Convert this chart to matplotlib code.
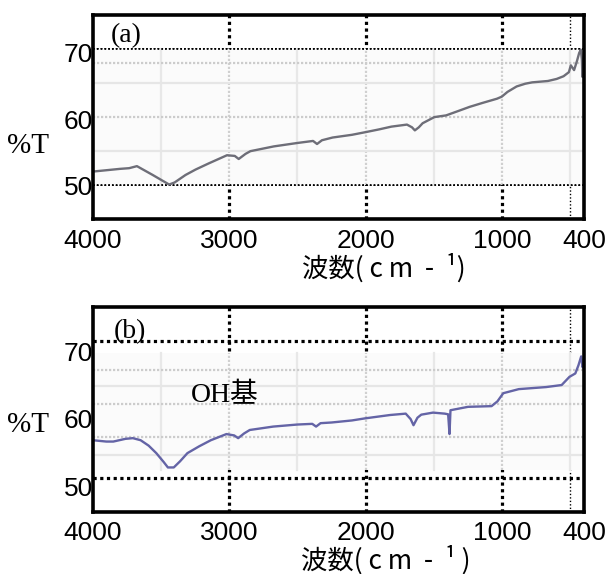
"""FT-IR transmittance spectra (a) and (b), redrawn from a scanned composite figure."""
import matplotlib
matplotlib.use('Agg')
import matplotlib.pyplot as plt
from matplotlib.patches import Rectangle

# ---- data ----------------------------------------------------------------
wn_a = [4000, 3900, 3800, 3733, 3676, 3560, 3440, 3400, 3320, 3246, 3150, 3016,
        2959, 2930, 2880, 2844, 2672, 2500, 2385, 2356, 2320, 2242, 2100, 1998,
        1900, 1811, 1697, 1660, 1639, 1610, 1582, 1496, 1410, 1320, 1238, 1140,
        1037, 1002, 960, 893, 830, 779, 664, 600, 549, 510, 496, 472, 450, 435,
        423, 415, 411, 405, 400]
t_a = [52.0, 52.2, 52.4, 52.5, 52.8, 51.5, 50.1, 50.4, 51.5, 52.3, 53.2, 54.4,
       54.3, 53.85, 54.6, 55.0, 55.7, 56.2, 56.5, 56.05, 56.6, 57.0, 57.4, 57.8,
       58.2, 58.6, 58.9, 58.5, 58.05, 58.5, 59.1, 60.0, 60.25, 60.9, 61.5, 62.1,
       62.7, 63.0, 63.7, 64.5, 64.9, 65.1, 65.3, 65.6, 66.0, 66.6, 67.6, 66.9,
       68.3, 69.4, 69.9, 68.5, 65.9, 67.5, 67.0]

wn_b = [4000, 3900, 3849, 3760, 3706, 3649, 3590, 3534, 3480, 3449, 3406, 3360,
        3306, 3220, 3134, 3020, 2963, 2934, 2890, 2849, 2677, 2500, 2391, 2363,
        2330, 2249, 2100, 2006, 1820, 1706, 1670, 1649, 1620, 1592, 1506, 1420,
        1395, 1385, 1378, 1249, 1077, 1034, 991, 877, 677, 563, 506, 463, 440,
        420, 410, 400]
t_b = [55.5, 55.3, 55.3, 55.7, 55.8, 55.5, 54.7, 53.6, 52.3, 51.5, 51.5, 52.4,
       53.6, 54.6, 55.5, 56.4, 56.2, 55.8, 56.5, 57.0, 57.5, 57.8, 57.9, 57.5,
       58.0, 58.1, 58.4, 58.7, 59.2, 59.4, 58.6, 57.7, 58.8, 59.25, 59.55, 59.4,
       59.3, 56.4, 59.9, 60.4, 60.5, 61.2, 62.4, 63.0, 63.3, 63.6, 64.8, 65.3,
       66.5, 67.8, 66.2, 66.8]

x_ticks = [4000, 3000, 2000, 1000, 400]
x_ticklabels = ['4000', '3000', '2000', '1000', '400']
y_ticklabels = ['50', '60', '70']
y_ticks_a = [50, 59.6, 69.5]
y_ticks_b = [48.7, 58.7, 68.5]   # labels sit lower than the dotted lines in (b)

SANS = 'Liberation Sans'
SERIF = 'Liberation Serif'
CJK = ['Noto Sans CJK JP', 'DejaVu Sans']


def draw_panel(ax, wn, t, color, inner, hline_lw, hgrid_dotted, hgrid_solid,
               yticks, tag, tag_pos):
    ax.set_xlim(4000, 400)
    ax.set_ylim(45, 75)
    for s in ax.spines.values():
        s.set_linewidth(2.6)
        s.set_zorder(10)
    # outer dotted guides
    for x in (3000, 2000, 1000):
        ax.axvline(x, color='k', lw=2.3, ls=(0, (1, 1.1)), dash_capstyle='butt', zorder=1)
    ax.axvline(500, color='k', lw=1.0, ls=(0, (1, 1.5)), zorder=1)
    for y in (70, 50):
        ax.axhline(y, color='k', lw=hline_lw, ls=(0, (1, 1.1)), dash_capstyle='butt', zorder=1)

    # pasted spectrum area with its own faint grid
    y0, y1 = inner
    ax.add_patch(Rectangle((4000, y0), -3600, y1 - y0, facecolor='#fbfbfb',
                           edgecolor='none', zorder=2))
    for x in (3500, 2500, 1500, 500):
        ax.plot([x, x], [y0, y1], color='#e8e8e8', lw=1.6, zorder=3)
    for x in (3000, 2000, 1000):
        ax.plot([x, x], [y0, y1], color='#d0d0d0', lw=1.6, ls=(0, (1, 0.8)), zorder=3)
    for y in hgrid_solid:
        ax.plot([4000, 400], [y, y], color='#e6e6e6', lw=1.6, zorder=3)
    for y in hgrid_dotted:
        ax.plot([4000, 400], [y, y], color='#cccccc', lw=1.6, ls=(0, (1, 0.8)), zorder=3)
    if y0 == 50:
        for y in (70, 50):
            ax.plot([4000, 400], [y, y], color='k', lw=hline_lw, ls=(0, (1, 1.1)), zorder=4)

    ax.plot(wn, t, color=color, lw=1.7, zorder=5, solid_joinstyle='round')

    ax.set_xticks(x_ticks)
    ax.set_xticklabels(x_ticklabels, fontfamily=SANS, fontsize=19)
    ax.set_yticks(yticks)
    ax.set_yticklabels(y_ticklabels, fontfamily=SANS, fontsize=19)
    ax.tick_params(axis='both', length=0)
    ax.tick_params(axis='x', pad=7)
    ax.tick_params(axis='y', pad=0)
    ax.text(tag_pos[0], tag_pos[1], tag, fontfamily=SERIF, fontsize=20,
            ha='center', va='center', zorder=6)


fig = plt.figure(figsize=(6.14, 5.74), dpi=100)
ax_a = fig.add_axes([0.151, 0.618, 0.800, 0.356])
ax_b = fig.add_axes([0.151, 0.1085, 0.800, 0.356])

draw_panel(ax_a, wn_a, t_a, '#6e6e78', (50, 70), 1.3, [60, 68], [65, 55],
           y_ticks_a, '(a)', (3756, 71.9))
draw_panel(ax_b, wn_b, t_b, '#6464a6', (51.1, 68.25), 2.3, [65.8, 60.8, 56.0],
           [63.4, 53.4], y_ticks_b, '(b)', (3727, 71.4))

ax_b.text(3032, 62.0, 'OH基', fontfamily=[SERIF, 'Noto Sans CJK JP'], fontsize=20,
          ha='center', va='center', zorder=6)

for yf in (0.746, 0.259):
    fig.text(0.046, yf, '%T', fontfamily=SERIF, fontsize=21, ha='center', va='center')
fig.text(0.625, 0.533, '波数( c m  -  ¹)', fontfamily=CJK, fontsize=19,
         ha='center', va='center')
fig.text(0.628, 0.025, '波数( c m  -  ¹ )', fontfamily=CJK, fontsize=19,
         ha='center', va='center')

fig.savefig('out.png', dpi=100)
